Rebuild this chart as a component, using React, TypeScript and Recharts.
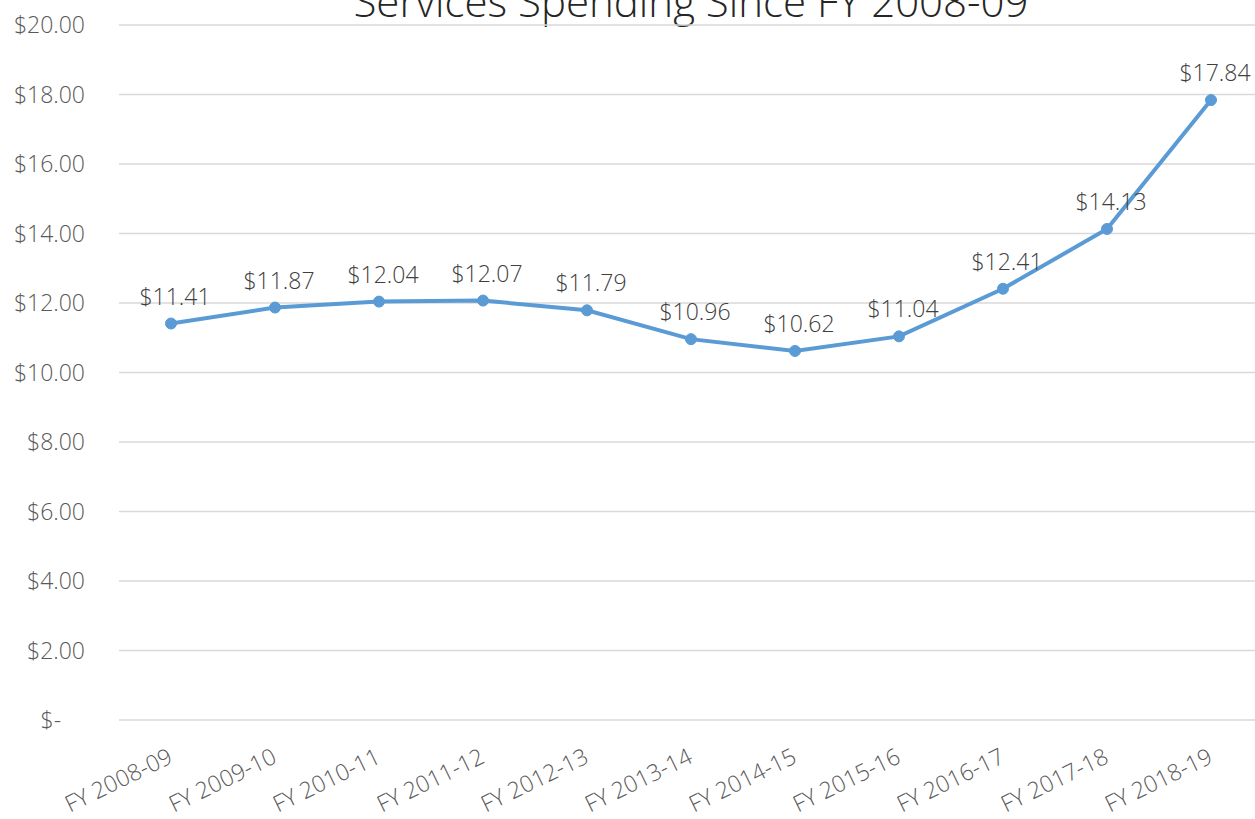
import { LineChart, Line, XAxis, YAxis, CartesianGrid, LabelList } from 'recharts';

const years = [
  'FY 2008-09', 'FY 2009-10', 'FY 2010-11', 'FY 2011-12', 'FY 2012-13', 'FY 2013-14',
  'FY 2014-15', 'FY 2015-16', 'FY 2016-17', 'FY 2017-18', 'FY 2018-19',
];
const spending = [11.41, 11.87, 12.04, 12.07, 11.79, 10.96, 10.62, 11.04, 12.41, 14.13, 17.84];
const yTicks = [0, 2, 4, 6, 8, 10, 12, 14, 16, 18, 20];

const chartData = years.map((year, i) => ({ year, value: spending[i] }));

const FONT = "'Open Sans', 'Noto Sans', sans-serif";

const fmtTick = (v: number) => (v === 0 ? '$-\u00a0\u00a0\u00a0\u00a0' : `$${v.toFixed(2)}`);

// rótulos do eixo X inclinados, ancorados no fim do texto
const XTick = ({ x, y, payload }: any) => (
  <g transform={`translate(${x + 3},${y + 34})`}>
    <text
      textAnchor="end"
      transform="rotate(-26)"
      fill="#595959"
      fontSize={23}
      fontFamily={FONT}
      fontWeight={300}
    >
      {payload.value}
    </text>
  </g>
);

const ValueLabel = ({ x, y, value }: any) => (
  <text
    x={x + 4}
    y={y - 19}
    textAnchor="middle"
    fill="#404040"
    fontSize={23}
    fontFamily={FONT}
    fontWeight={300}
  >
    {`$${Number(value).toFixed(2)}`}
  </text>
);

const App = () => {
  return (
    <div style={{ position: 'absolute', left: 0, top: 0, width: 1255, height: 819, overflow: 'hidden', background: '#fff' }}>
      <div
        style={{
          position: 'absolute', top: -24, left: 119, width: 1144, textAlign: 'center',
          fontFamily: FONT, fontWeight: 300, fontSize: 42, lineHeight: '50px', color: '#262626',
          whiteSpace: 'nowrap',
        }}
      >
        Services Spending Since FY 2008-09
      </div>
      <LineChart
        width={1263}
        height={819}
        data={chartData}
        margin={{ top: 25, right: 0, bottom: 0, left: 0 }}
      >
        <CartesianGrid vertical={false} stroke="#D9D9D9" strokeWidth={1.5} />
        <XAxis
          dataKey="year"
          axisLine={false}
          tickLine={false}
          height={99}
          padding={{ left: 52, right: 52 }}
          interval={0}
          tick={<XTick />}
        />
        <YAxis
          domain={[0, 20]}
          ticks={yTicks}
          width={119}
          axisLine={false}
          tickLine={false}
          tickFormatter={fmtTick}
          tick={{ fill: '#595959', fontSize: 23, fontFamily: FONT, fontWeight: 300 }}
          dx={-26}
        />
        <Line
          type="linear"
          dataKey="value"
          stroke="#5B9BD5"
          strokeWidth={4}
          dot={{ r: 5.5, fill: '#5B9BD5', stroke: '#5B9BD5', strokeWidth: 1 }}
          isAnimationActive={false}
        >
          <LabelList dataKey="value" content={<ValueLabel />} />
        </Line>
      </LineChart>
    </div>
  );
};

export default App;
